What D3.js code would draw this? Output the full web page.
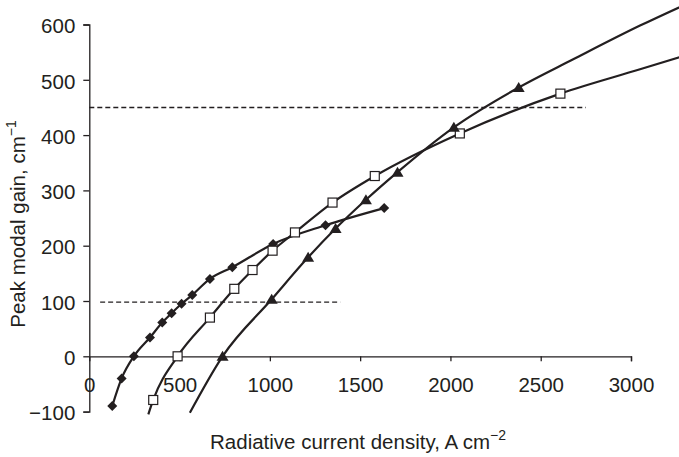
<!DOCTYPE html>
<html>
<head>
<meta charset="utf-8">
<script src="https://cdn.jsdelivr.net/npm/d3@7"></script>
<style>
  body { margin: 0; background: #fff; }
  svg { display: block; font-family: "Liberation Sans", Arial, sans-serif; }
</style>
</head>
<body>
<svg id="chart"></svg>
<script>
const width = 679, height = 457;

// diamonds
const diamondX = [127, 179, 247, 336, 404, 456, 511, 570, 668, 792, 1018, 1308, 1633];
const diamondY = [-90, -40, 0, 34, 61, 78, 95, 111, 140, 161, 203, 237, 268];

// open squares (markers) and the fitted line through them
const squareX = [354, 489, 668, 803, 904, 1015, 1139, 1347, 1581, 2052, 2609];
const squareY = [-79, 0, 70, 122, 156, 191, 224, 278, 326, 403, 475];
const squareLineX = [327, 354, 489, 668, 803, 904, 1015, 1139, 1347, 1581, 2052, 2609, 3050, 3300];
const squareLineY = [-105, -79, 0, 70, 122, 156, 191, 224, 278, 326, 403, 475, 519, 544];

// filled triangles (markers) and the fitted line through them
const triangleX = [738, 1010, 1212, 1364, 1532, 1707, 2019, 2378];
const triangleY = [0, 103, 179, 231, 283, 333, 414, 486];
const triangleLineX = [557, 738, 1010, 1212, 1364, 1532, 1707, 2019, 2378, 2680, 3050, 3300];
const triangleLineY = [-102, 0, 103, 179, 231, 283, 333, 414, 486, 537, 598, 636];

// dashed reference lines
const refLevels = [450, 98];
const refStart = [0, 60];
const refEnd = [2750, 1390];

const xTicks = [0, 500, 1000, 1500, 2000, 2500, 3000];
const yTicks = [-100, 0, 100, 200, 300, 400, 500, 600];

const ink = "#231f20";
const fontSize = "20.5px";

const svg = d3.select("#chart")
    .attr("width", width)
    .attr("height", height);

const x = d3.scaleLinear().domain([0, 3000]).range([89.3, 631]);
const y = d3.scaleLinear().domain([-100, 600]).range([411.6, 24.5]);

const fmt = d => d < 0 ? "\u2212" + Math.abs(d) : String(d);

// y axis
const yAxis = svg.append("g")
    .attr("transform", `translate(${x(0)},0)`)
    .call(d3.axisLeft(y).tickValues(yTicks).tickSize(6).tickPadding(8).tickFormat(fmt));
yAxis.selectAll(".tick text").attr("dy", "0.4em");

// x axis sits on the zero line
const xAxis = svg.append("g")
    .attr("transform", `translate(0,${y(0)})`)
    .call(d3.axisBottom(x).tickValues(xTicks).tickSize(5).tickPadding(16).tickFormat(fmt));

[yAxis, xAxis].forEach(a => {
    a.select(".domain").attr("stroke", ink).attr("stroke-width", 1.3);
    a.selectAll(".tick line").attr("stroke", ink).attr("stroke-width", 1.3);
    a.selectAll(".tick text")
        .attr("fill", ink)
        .style("font-size", fontSize)
        .style("font-family", "'Liberation Sans', Arial, sans-serif");
});
xAxis.selectAll(".tick").filter(d => d === 0).select("line").remove();

// dashed lines
refLevels.forEach((lv, i) => {
    svg.append("line")
        .attr("x1", x(refStart[i]))
        .attr("x2", x(refEnd[i]))
        .attr("y1", y(lv))
        .attr("y2", y(lv))
        .attr("stroke", ink)
        .attr("stroke-width", 1.4)
        .attr("stroke-dasharray", "5,3");
});

const line = d3.line()
    .x(d => x(d[0]))
    .y(d => y(d[1]))
    .curve(d3.curveMonotoneX);

const zip = (a, b) => a.map((v, i) => [v, b[i]]);

svg.append("path")
    .datum(zip(diamondX, diamondY))
    .attr("fill", "none").attr("stroke", ink).attr("stroke-width", 2.2)
    .attr("d", line);

svg.append("path")
    .datum(zip(squareLineX, squareLineY))
    .attr("fill", "none").attr("stroke", ink).attr("stroke-width", 2.2)
    .attr("d", line);

svg.append("path")
    .datum(zip(triangleLineX, triangleLineY))
    .attr("fill", "none").attr("stroke", ink).attr("stroke-width", 2.2)
    .attr("d", line);

// markers
svg.append("g").selectAll("path")
    .data(zip(diamondX, diamondY))
    .join("path")
    .attr("transform", d => `translate(${x(d[0])},${y(d[1])}) rotate(45)`)
    .attr("d", d3.symbol(d3.symbolSquare, 50))
    .attr("fill", ink);

svg.append("g").selectAll("rect")
    .data(zip(squareX, squareY))
    .join("rect")
    .attr("x", d => x(d[0]) - 4.5)
    .attr("y", d => y(d[1]) - 4.5)
    .attr("width", 9)
    .attr("height", 9)
    .attr("fill", "#fff")
    .attr("stroke", ink)
    .attr("stroke-width", 1.2);

svg.append("g").selectAll("path")
    .data(zip(triangleX, triangleY))
    .join("path")
    .attr("transform", d => `translate(${x(d[0])},${y(d[1])})`)
    .attr("d", "M0,-5.5L6,4.5L-6,4.5Z")
    .attr("fill", ink);

// axis titles
const xt = svg.append("text")
    .attr("x", 358)
    .attr("y", 449)
    .attr("text-anchor", "middle")
    .attr("fill", ink)
    .style("font-size", fontSize);
xt.append("tspan").text("Radiative current density, A cm");
xt.append("tspan").attr("dy", -9).style("font-size", "14px").text("\u22122");

const yt = svg.append("text")
    .attr("transform", "translate(25,224) rotate(-90)")
    .attr("text-anchor", "middle")
    .attr("fill", ink)
    .style("font-size", fontSize);
yt.append("tspan").text("Peak modal gain, cm");
yt.append("tspan").attr("dy", -9).style("font-size", "14px").text("\u22121");
</script>
</body>
</html>
